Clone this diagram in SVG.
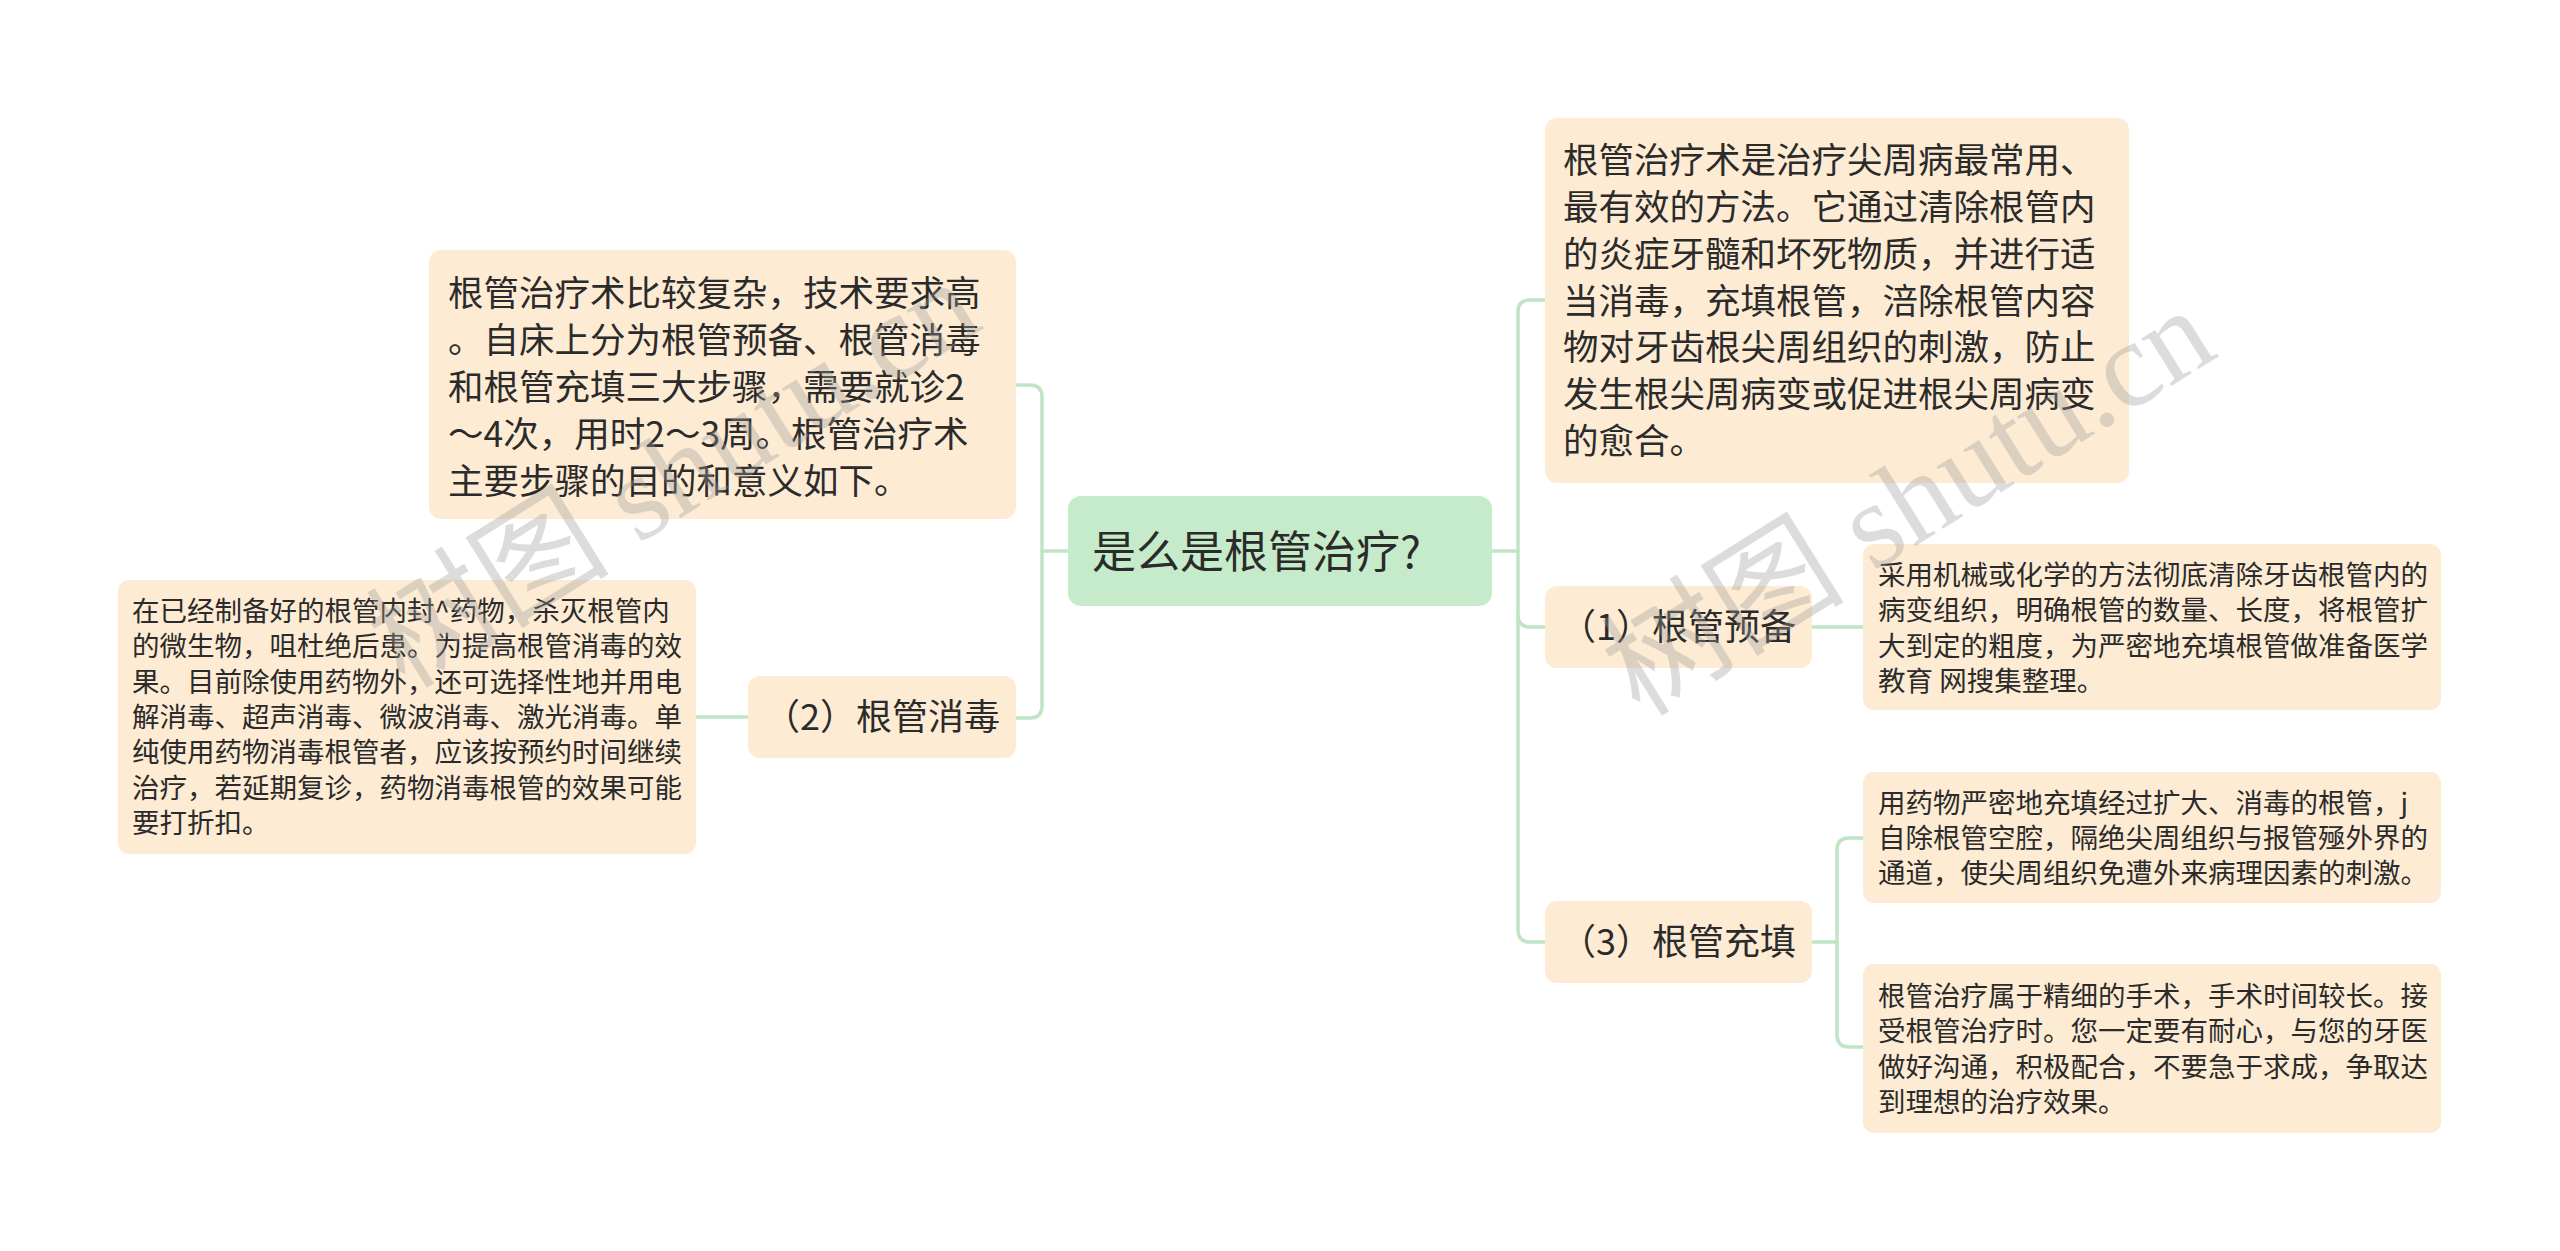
<svg xmlns="http://www.w3.org/2000/svg" width="2560" height="1251" viewBox="0 0 2560 1251">
<style>
.bg{fill:#ffffff}
.box{fill:#fdebd4}
.root{fill:#c5ebca}
.t{font-family:"Noto Sans CJK SC","Noto Sans",sans-serif;fill:#2b2b2b}
.t0{font-size:44px}
.t1{font-size:35.5px}
.tn{font-size:36px}
.t2{font-size:27.5px}
.wm{font-family:"Liberation Serif","Noto Sans CJK SC",serif;font-size:122px;fill:#9a9a9a;fill-opacity:0.35}
.wmc{font-family:"Noto Sans CJK SC",sans-serif}
.c{fill:none;stroke:#bfe5c5;stroke-width:3.5;stroke-linecap:round}
</style>
<rect class="bg" x="0" y="0" width="2560" height="1251"/>
<g id="connectors">
<path class="c" d="M1068,551 H1042"/>
<path class="c" d="M1016,385 H1030 Q1042,385 1042,397 V706 Q1042,718 1030,718 H1016"/>
<path class="c" d="M748,717 H696"/>
<path class="c" d="M1492,551 H1518"/>
<path class="c" d="M1545,300 H1530 Q1518,300 1518,312 V930 Q1518,942 1530,942 H1545"/>
<path class="c" d="M1518,615 Q1518,627 1530,627 H1545"/>
<path class="c" d="M1812,627 H1863"/>
<path class="c" d="M1812,942 H1837"/>
<path class="c" d="M1863,838 H1849 Q1837,838 1837,850 V1035 Q1837,1047 1849,1047 H1863"/>
</g>
<g id="root">
<rect class="root" x="1068" y="496" width="424" height="110" rx="13"/>
<text class="t t0" x="1092" y="568">是么是根管治疗?</text>
</g>
<g id="left-intro">
<rect class="box" x="429" y="250" width="587" height="269" rx="12"/>
<text class="t t1" x="448">
<tspan x="448" y="306">根管治疗术比较复杂，技术要求高</tspan>
<tspan x="448" y="353">。自床上分为根管预备、根管消毒</tspan>
<tspan x="448" y="400">和根管充填三大步骤，需要就诊2</tspan>
<tspan x="448" y="447">～4次，用时2～3周。根管治疗术</tspan>
<tspan x="448" y="494">主要步骤的目的和意义如下。</tspan>
</text>
</g>
<g id="node-2">
<rect class="box" x="748" y="676" width="268" height="82" rx="12"/>
<text class="t tn" x="764" y="730">（2）根管消毒</text>
</g>
<g id="node-2-detail">
<rect class="box" x="118" y="580" width="578" height="274" rx="11"/>
<text class="t t2">
<tspan x="132" y="621">在已经制备好的根管内封^药物，杀灭根管内</tspan>
<tspan x="132" y="656">的微生物，咀杜绝后患。为提高根管消毒的效</tspan>
<tspan x="132" y="692">果。目前除使用药物外，还可选择性地并用电</tspan>
<tspan x="132" y="727">解消毒、超声消毒、微波消毒、激光消毒。单</tspan>
<tspan x="132" y="762">纯使用药物消毒根管者，应该按预约时间继续</tspan>
<tspan x="132" y="798">治疗，若延期复诊，药物消毒根管的效果可能</tspan>
<tspan x="132" y="833">要打折扣。</tspan>
</text>
</g>
<g id="right-intro">
<rect class="box" x="1545" y="118" width="584" height="365" rx="12"/>
<text class="t t1">
<tspan x="1563" y="173">根管治疗术是治疗尖周病最常用、</tspan>
<tspan x="1563" y="220">最有效的方法。它通过清除根管内</tspan>
<tspan x="1563" y="267">的炎症牙髓和坏死物质，并进行适</tspan>
<tspan x="1563" y="314">当消毒，充填根管，涪除根管内容</tspan>
<tspan x="1563" y="360">物对牙齿根尖周组织的刺激，防止</tspan>
<tspan x="1563" y="407">发生根尖周病变或促进根尖周病变</tspan>
<tspan x="1563" y="454">的愈合。</tspan>
</text>
</g>
<g id="node-1">
<rect class="box" x="1545" y="586" width="267" height="82" rx="12"/>
<text class="t tn" x="1560" y="640">（1）根管预备</text>
</g>
<g id="node-1-detail">
<rect class="box" x="1863" y="544" width="578" height="166" rx="11"/>
<text class="t t2">
<tspan x="1878" y="585">采用机械或化学的方法彻底清除牙齿根管内的</tspan>
<tspan x="1878" y="620">病变组织，明确根管的数量、长度，将根管扩</tspan>
<tspan x="1878" y="656">大到定的粗度，为严密地充填根管做准备医学</tspan>
<tspan x="1878" y="691">教育 网搜集整理。</tspan>
</text>
</g>
<g id="node-3">
<rect class="box" x="1545" y="901" width="267" height="82" rx="12"/>
<text class="t tn" x="1560" y="955">（3）根管充填</text>
</g>
<g id="node-3-detail-a">
<rect class="box" x="1863" y="772" width="578" height="131" rx="11"/>
<text class="t t2">
<tspan x="1878" y="813">用药物严密地充填经过扩大、消毒的根管，j</tspan>
<tspan x="1878" y="848">自除根管空腔，隔绝尖周组织与报管殛外界的</tspan>
<tspan x="1878" y="883">通道，使尖周组织免遭外来病理因素的刺激。</tspan>
</text>
</g>
<g id="node-3-detail-b">
<rect class="box" x="1863" y="964" width="578" height="169" rx="11"/>
<text class="t t2">
<tspan x="1878" y="1006">根管治疗属于精细的手术，手术时间较长。接</tspan>
<tspan x="1878" y="1041">受根管治疗时。您一定要有耐心，与您的牙医</tspan>
<tspan x="1878" y="1077">做好沟通，积极配合，不要急于求成，争取达</tspan>
<tspan x="1878" y="1112">到理想的治疗效果。</tspan>
</text>
</g>
<g id="watermark">
<text class="wm" transform="translate(405,690) rotate(-32)"><tspan class="wmc">树图</tspan> shutu.cn</text>
<text class="wm" transform="translate(1640,718) rotate(-32)"><tspan class="wmc">树图</tspan> shutu.cn</text>
</g>
</svg>
